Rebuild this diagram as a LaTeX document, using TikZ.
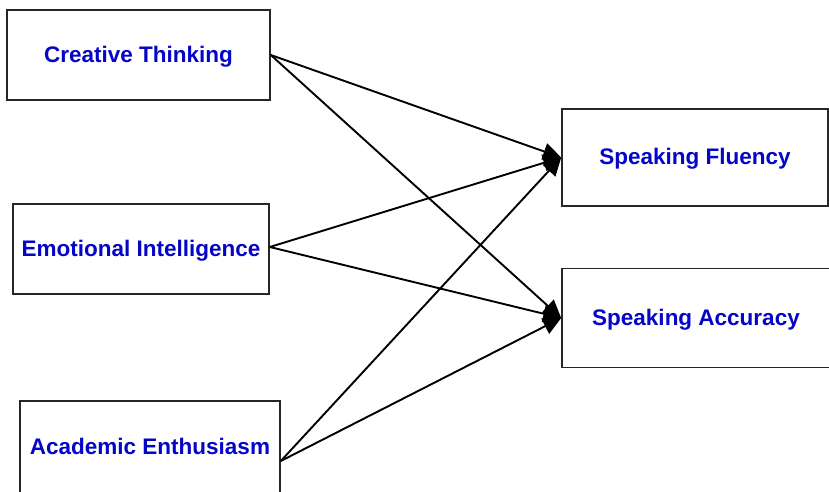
\documentclass[tikz,border=0pt]{standalone}
\usepackage{fontspec}
\setmainfont{Liberation Sans}
\usetikzlibrary{arrows.meta,calc}
\definecolor{lblue}{RGB}{5,5,200}
\tikzset{
  var/.style={draw=black!85, line width=1.6pt, fill=white, rectangle, inner sep=0pt,
    font=\fontsize{22.5}{26}\selectfont\bfseries, text=lblue, text depth=2pt},
  path/.style={draw=black, line width=1.9pt, -{Triangle[length=18pt,width=17pt]}}
}
\begin{document}
\begin{tikzpicture}[x=1pt,y=-1pt]
\useasboundingbox (0,0) rectangle (829,492);
\clip (0,0) rectangle (829,492);
\fill[white] (0,0) rectangle (829,492);
\node[var, minimum width=263pt, minimum height=90pt] (CT) at (138.5,55) {Creative Thinking};
\node[var, minimum width=256pt, minimum height=90pt] (EI) at (141,249) {Emotional Intelligence};
\node[var, minimum width=260pt, minimum height=92pt] (AE) at (150,447) {Academic Enthusiasm};
\node[var, minimum width=266pt, minimum height=97pt] (SF) at (695,157.5) {Speaking Fluency};
\node[var, minimum width=268pt, minimum height=99pt] (SA) at (696,318) {Speaking Accuracy};
\coordinate (AEo) at ($(AE.east)+(0,14)$);
\coordinate (EIo) at ($(EI.east)+(0,-2)$);
\draw[path] (CT.east) -- (SF.west);
\draw[path] (CT.east) -- (SA.west);
\draw[path] (EIo) -- (SF.west);
\draw[path] (EIo) -- (SA.west);
\draw[path] (AEo) -- (SF.west);
\draw[path] (AEo) -- (SA.west);
\end{tikzpicture}
\end{document}
